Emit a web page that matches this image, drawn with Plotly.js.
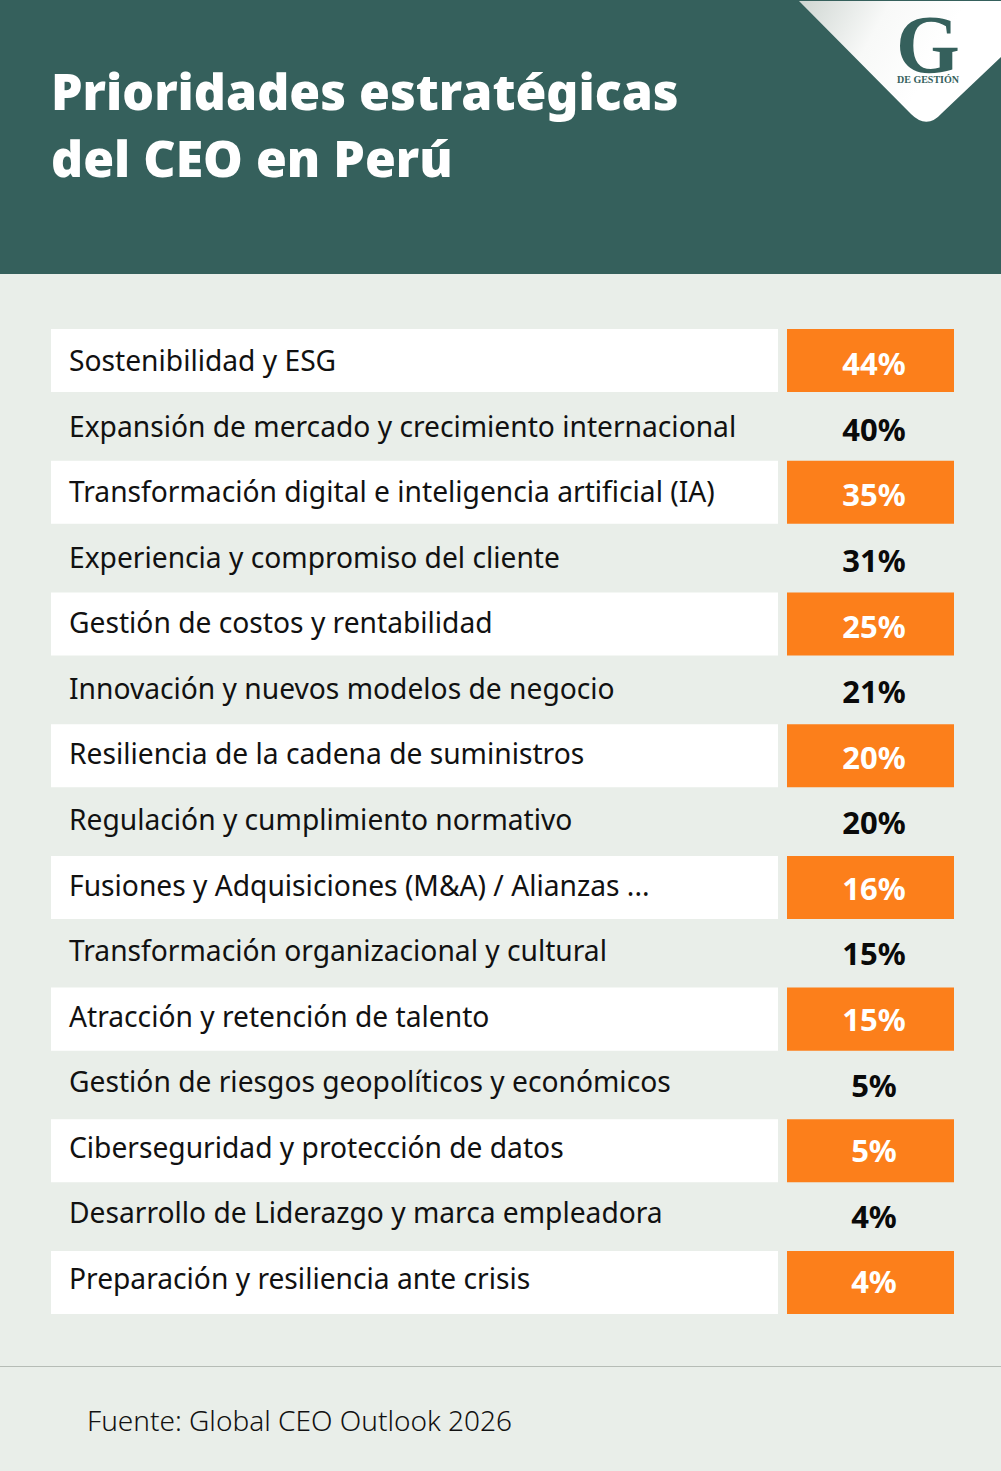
<!DOCTYPE html>
<html><head><meta charset="utf-8">
<script src="https://cdn.plot.ly/plotly-3.0.1.min.js"></script>
<style>html,body{margin:0;padding:0;background:#e9eee9}#c{width:1001px;height:1471px}</style>
</head><body><div id="c"></div>
<script>
const categories = ["Sostenibilidad y ESG","Expansión de mercado y crecimiento internacional","Transformación digital e inteligencia artificial (IA)","Experiencia y compromiso del cliente","Gestión de costos y rentabilidad","Innovación y nuevos modelos de negocio","Resiliencia de la cadena de suministros","Regulación y cumplimiento normativo","Fusiones y Adquisiciones (M&A) / Alianzas ...","Transformación organizacional y cultural","Atracción y retención de talento","Gestión de riesgos geopolíticos y económicos","Ciberseguridad y protección de datos","Desarrollo de Liderazgo y marca empleadora","Preparación y resiliencia ante crisis"];
const values = [44,40,35,31,25,21,20,20,16,15,15,5,5,4,4];
const titleLines = ["Prioridades estratégicas","del CEO en Perú"];
const sourceText = "Fuente: Global CEO Outlook 2026";

const W=1001,H=1471;
const BG="#e9eee9",GREEN="#35605c",ORANGE="#fc7f1b",FONT="'Noto Sans'";
const px=x=>x/W, py=y=>1-y/H;
const striped=categories.filter((_,i)=>i%2===0);
const catAxis=(t,b)=>({domain:[(H-b)/H,(H-t)/H],type:"category",categoryorder:"array",categoryarray:categories,range:[categories.length-0.5,-0.5],visible:false,fixedrange:true,anchor:"x"});
const traces=[
 {type:"bar",orientation:"h",y:striped,x:striped.map(()=>727),base:striped.map(()=>51),marker:{color:"#ffffff"},hoverinfo:"skip"},
 {type:"bar",orientation:"h",y:striped,x:striped.map(()=>167),base:striped.map(()=>787),marker:{color:ORANGE},hoverinfo:"skip"},
 {type:"scatter",mode:"text",yaxis:"y2",y:categories,x:categories.map(()=>69),text:categories,textposition:"middle right",cliponaxis:false,
  textfont:{family:FONT,size:28.2,color:"#111111"},hoverinfo:"skip"},
 {type:"scatter",mode:"text",yaxis:"y3",y:categories,x:categories.map(()=>874),text:values.map(v=>v+"%"),textposition:"middle center",cliponaxis:false,
  textfont:{family:FONT,size:31,weight:700,color:categories.map((_,i)=>i%2===0?"#ffffff":"#0a0a0a")},hoverinfo:"skip"}
];
const logoSvg=`<svg xmlns="http://www.w3.org/2000/svg" width="203" height="124" viewBox="798 0 203 124"><defs><linearGradient id="g" x1="0" y1="0" x2="0.75" y2="0.25"><stop offset="0" stop-color="#cfd6d2"/><stop offset="0.55" stop-color="#f8f9f8"/><stop offset="1" stop-color="#ffffff"/></linearGradient></defs><path d="M799 1 L1001 1 L1001 57 L942 113 Q927 130 911 114 Z" fill="url(#g)"/></svg>`;
const titleNote=(t,y)=>({xref:"paper",yref:"paper",x:px(50),y:py(y),xanchor:"left",yanchor:"middle",align:"left",showarrow:false,text:t,font:{family:FONT,size:50,weight:900,color:"#ffffff"},borderpad:0});
const layout={
 width:W,height:H,margin:{l:0,r:0,t:0,b:0},paper_bgcolor:BG,plot_bgcolor:"rgba(0,0,0,0)",showlegend:false,barmode:"overlay",bargap:0.043,
 xaxis:{range:[0,W],visible:false,fixedrange:true},
 yaxis:catAxis(327.6,1315.5),
 yaxis2:catAxis(331.2,1314.8),
 yaxis3:catAxis(334.7,1318.4),
 shapes:[
  {type:"rect",xref:"paper",yref:"paper",x0:0,x1:1,y0:py(274),y1:1,fillcolor:GREEN,line:{width:0},layer:"below"},
  {type:"line",xref:"paper",yref:"paper",x0:0,x1:1,y0:py(1366.5),y1:py(1366.5),line:{color:"#b6bcb6",width:1},layer:"below"}
 ],
 images:[{source:"data:image/svg+xml;utf8,"+encodeURIComponent(logoSvg),xref:"paper",yref:"paper",x:px(798),y:1,sizex:203/W,sizey:124/H,xanchor:"left",yanchor:"top",sizing:"stretch",layer:"above"}],
 annotations:[
  titleNote(titleLines[0],91.5),
  titleNote(titleLines[1],158),
  {xref:"paper",yref:"paper",x:px(86),y:py(1420),xanchor:"left",yanchor:"middle",showarrow:false,text:sourceText,font:{family:FONT,size:28,weight:300,color:"#111111"},borderpad:0},
  {xref:"paper",yref:"paper",x:px(928),y:py(45),xanchor:"center",yanchor:"middle",showarrow:false,text:"G",font:{family:"'Liberation Serif'",size:82,weight:700,color:GREEN},borderpad:0},
  {xref:"paper",yref:"paper",x:px(928),y:py(79),xanchor:"center",yanchor:"middle",showarrow:false,text:"DE GESTIÓN",font:{family:"'Liberation Serif'",size:10,weight:700,color:GREEN},borderpad:0}
 ]
};
Plotly.newPlot("c",traces,layout,{displayModeBar:false,staticPlot:true});
</script></body></html>
